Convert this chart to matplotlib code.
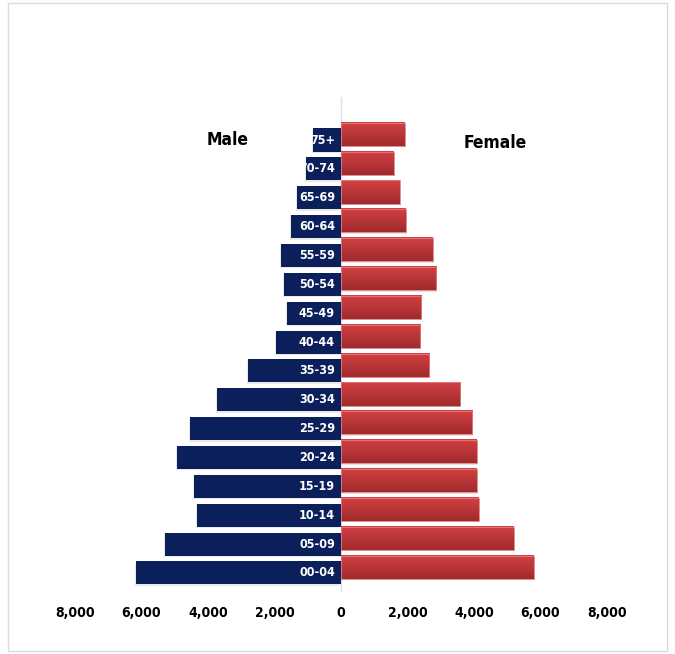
import numpy as np
import matplotlib.pyplot as plt
from matplotlib.patches import Rectangle
from matplotlib.colors import LinearSegmentedColormap

plt.rcParams['font.family'] = ['DejaVu Sans']
plt.rcParams['font.stretch'] = 'condensed'

grupos = ['00-04', '05-09', '10-14', '15-19', '20-24', '25-29', '30-34', '35-39',
          '40-44', '45-49', '50-54', '55-59', '60-64', '65-69', '70-74', '75+']
hombres = [6180, 5280, 4320, 4410, 4920, 4530, 3720, 2790,
           1950, 1620, 1710, 1800, 1500, 1320, 1040, 840]
mujeres = [5800, 5200, 4150, 4080, 4090, 3940, 3580, 2650,
           2380, 2410, 2860, 2760, 1950, 1770, 1590, 1920]
ticks = [-8000, -6000, -4000, -2000, 0, 2000, 4000, 6000, 8000]

fig = plt.figure(figsize=(6.75, 6.54), dpi=100)
ax = fig.add_axes([75 / 675, 1 - 592 / 654, 532 / 675, 495 / 654])

# marco del grafico
fig.patches.append(Rectangle((8 / 675, 3 / 654), 659 / 675, 648 / 654,
                             transform=fig.transFigure, fill=False,
                             edgecolor='#d5dce8', linewidth=1))

y = np.arange(len(grupos))
alto = 0.8
desp = 0.2  # las barras de mujeres van un poco mas arriba

# hombres
ax.barh(y - 0.05, [-v for v in hombres], height=alto, left=-30,
        color='#c8c8d0', alpha=0.4, zorder=1)
ax.barh(y, [-v for v in hombres], height=alto, color='#0b1f5b', zorder=2)

# mujeres con degradado
cmap = LinearSegmentedColormap.from_list('rojo', ['#a02a2c', '#d34143'])
grad = np.linspace(0, 1, 50).reshape(-1, 1)
for i, v in enumerate(mujeres):
    y0 = i + desp - alto / 2
    ax.barh(i + desp - 0.05, v, height=alto, left=30, color='#c8b8b8',
            alpha=0.4, zorder=1)
    ax.imshow(grad, extent=[0, v, y0, y0 + alto], origin='lower', cmap=cmap,
              aspect='auto', zorder=2)
    ax.add_patch(Rectangle((0, y0), v, alto, fill=False, edgecolor='#e08080',
                           linewidth=0.6, zorder=3))

for i, g in enumerate(grupos):
    ax.text(-180, i, g, ha='right', va='center', color='white',
            fontsize=9, fontweight='bold', zorder=4)

ax.axvline(0, color='#dde0e8', linewidth=1, zorder=0)

ax.set_xlim(-8000, 8000)
ax.set_ylim(-0.66, 16.49)
ax.set_xticks(ticks)
ax.set_xticklabels([f'{abs(t):,}' for t in ticks], fontsize=10, fontweight='bold')
ax.tick_params(axis='x', length=0, pad=10)
ax.set_yticks([])
for s in ax.spines.values():
    s.set_visible(False)

ax.text(-3420, 15.0, 'Male', ha='center', va='center', fontsize=12.5, fontweight='bold')
ax.text(4640, 14.9, 'Female', ha='center', va='center', fontsize=12.5, fontweight='bold')

fig.savefig('out.png', dpi=100)
